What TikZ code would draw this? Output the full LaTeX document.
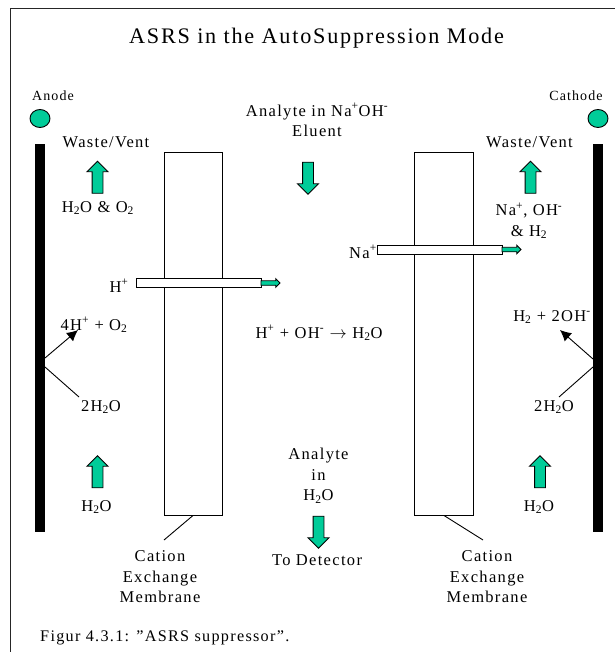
\documentclass[tikz,border=0pt]{standalone}
\usepackage{fontspec}
\setmainfont[LetterSpace=8]{Liberation Serif}
\definecolor{arrowgreen}{RGB}{0, 204, 153}
\usetikzlibrary{
    shapes.geometric,
    shapes.arrows,
    arrows.meta,
    positioning
}
\tikzstyle{membrane} = [
    rectangle,
    draw,
    line width=0.9pt,
    minimum width=58.5pt,
    minimum height=363pt,
    inner sep=0pt,
    outer sep=0pt
]
\tikzstyle{leader} = [
    line width=0.9pt
]
\tikzstyle{reaction} = [
    -{Latex[length=11pt,width=11pt]},
    line width=0.9pt
]

\begin{document}
\begin{tikzpicture}[
    x=1pt,
    y=-1pt,
    chem/.style={font=\fontsize{16.5}{20.5}\selectfont, inner sep=0pt, align=center},
    electrode/.style={rectangle, fill=black, minimum width=10pt, minimum height=388pt, inner sep=0pt, outer sep=0pt},
    terminal/.style={ellipse, draw, fill=arrowgreen, line width=0.9pt, minimum width=20pt, minimum height=18pt, inner sep=0pt},
    flowup/.style={single arrow, draw, fill=arrowgreen, line width=0.9pt, shape border rotate=90, minimum width=20pt, minimum height=32pt, single arrow head extend=5pt, single arrow tip angle=90, inner xsep=5pt, inner ysep=0pt, outer sep=0pt},
    flowdown/.style={flowup, shape border rotate=270},
    tube/.style={rectangle, draw, fill=white, line width=0.9pt, minimum width=125pt, minimum height=9pt, inner sep=0pt, outer sep=0pt},
    tubeflow/.style={single arrow, draw, fill=arrowgreen, line width=0.9pt, minimum width=8pt, minimum height=19pt, single arrow head extend=2pt, single arrow tip angle=90, inner xsep=0pt, inner ysep=1.8pt, outer sep=0pt},
    polelabel/.style={font=\fontsize{14}{16}\selectfont, inner sep=0pt, anchor=base}
]
    \useasboundingbox (0,0) rectangle (615,652);

    % Frame
    \draw[line width=1pt, black!85] (10,652) -- (10,9) -- (615,9);

    % Title
    \node[font=\fontsize{22.2}{26}\selectfont, inner sep=0pt, anchor=base] (title) at (316.5,44) {ASRS in the AutoSuppression Mode};

    % Electrodes
    \node[electrode] (anodebar) at (40,338) {};
    \node[electrode] (cathodebar) at (598,338) {};
    \node[terminal] (anodecap) at (40,118.5) {};
    \node[terminal] (cathodecap) at (598,118.5) {};
    \node[polelabel] (anodelabel) at (53,101) {Anode};
    \node[polelabel] (cathodelabel) at (576,101) {Cathode};

    % Membranes
    \node[membrane] (leftmembrane) at (193.5,334) {};
    \node[membrane] (rightmembrane) at (444,334) {};

    % Ions through the membranes
    \node[chem, anchor=base] (hplus) at (119,292) {H\textsuperscript{+}};
    \node[chem, anchor=base] (naplus) at (363,258) {Na\textsuperscript{+}};
    \node[tube] (lefttube) at (198.5,283) {};
    \node[tube] (righttube) at (439.5,249.5) {};
    \node[tubeflow, right=0pt of lefttube] (leftflow) {};
    \node[tubeflow, right=0pt of righttube] (rightflow) {};

    % Anode side
    \node[flowup] (anodewaste) at (97.5,180) {};
    \node[chem, anchor=base] (anodevent) at (106,148) {Waste/Vent};
    \node[chem, anchor=base] (anodegas) at (98,212) {H\textsubscript{2}O \& O\textsubscript{2}};
    \node[chem, anchor=base] (anodeprod) at (94,330) {4H\textsuperscript{+} + O\textsubscript{2}};
    \node[chem, anchor=base] (anodewater) at (101,411) {2H\textsubscript{2}O};
    \node[flowup] (anodefeed) at (97.5,474.5) {};
    \node[chem, anchor=base] (anodein) at (96.5,511) {H\textsubscript{2}O};

    % Cathode side
    \node[flowup] (cathodewaste) at (530.5,180) {};
    \node[chem, anchor=base] (cathodevent) at (529.5,148) {Waste/Vent};
    \node[chem] (cathodegas) at (529,221) {Na\textsuperscript{+}, OH\textsuperscript{-}\\\& H\textsubscript{2}};
    \node[chem, anchor=base] (cathodeprod) at (552,321) {H\textsubscript{2} + 2OH\textsuperscript{-}};
    \node[chem, anchor=base] (cathodewater) at (554,411) {2H\textsubscript{2}O};
    \node[flowup] (cathodefeed) at (540,474.5) {};
    \node[chem, anchor=base] (cathodein) at (539,511) {H\textsubscript{2}O};

    % Centre channel
    \node[chem] (eluent) at (317,120) {Analyte in Na\textsuperscript{+}OH\textsuperscript{-}\\Eluent};
    \node[flowdown] (eluentflow) at (308,175.5) {};
    \node[chem, anchor=base] (neutral) at (319,338) {H\textsuperscript{+} + OH\textsuperscript{-} $\rightarrow$ H\textsubscript{2}O};
    \node[chem] (analyte) at (318.5,476) {Analyte\\in\\H\textsubscript{2}O};
    \node[flowdown] (detectorflow) at (318.5,529.5) {};
    \node[chem, anchor=base] (detector) at (317,565) {To Detector};

    % Membrane captions
    \node[chem] (leftcaption) at (160,577) {Cation\\Exchange\\Membrane};
    \node[chem] (rightcaption) at (487,577) {Cation\\Exchange\\Membrane};
    \node[font=\fontsize{16.2}{19}\selectfont, inner sep=0pt, anchor=base west] (figcaption) at (40,641) {Figur 4.3.1: ”ASRS suppressor”.};

    % End points
    \coordinate (anodeout) at (45,358);
    \coordinate (anodetip) at (78,330);
    \coordinate (anodeback) at (45,367);
    \coordinate (anodefrom) at (79,397);
    \coordinate (cathodeout) at (593,359);
    \coordinate (cathodetip) at (560,330);
    \coordinate (cathodeback) at (593,367);
    \coordinate (cathodefrom) at (559,397);
    \coordinate (leftfoot) at (193,515.5);
    \coordinate (leftend) at (164,540);
    \coordinate (rightfoot) at (444,515.5);
    \coordinate (rightend) at (483,540);

    % Arrows
    \draw[reaction] (anodeout) -- (anodetip);
    \draw[leader] (anodeback) -- (anodefrom);
    \draw[reaction] (cathodeout) -- (cathodetip);
    \draw[leader] (cathodeback) -- (cathodefrom);
    \draw[leader] (leftfoot) -- (leftend);
    \draw[leader] (rightfoot) -- (rightend);

\end{tikzpicture}
\end{document}
